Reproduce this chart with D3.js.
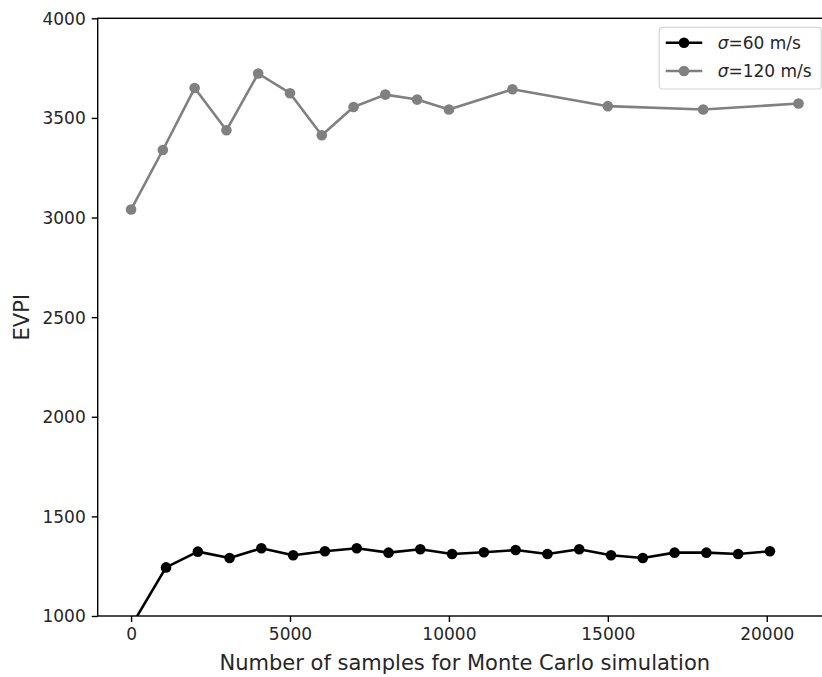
<!DOCTYPE html>
<html>
<head>
<meta charset="utf-8">
<script src="https://cdn.jsdelivr.net/npm/d3@7"></script>
<style>
  html, body { margin: 0; padding: 0; background: #fff; }
  svg { display: block; font-family: "DejaVu Sans", sans-serif; }
</style>
</head>
<body>
<svg id="chart" width="822" height="677"></svg>
<script>
// Sample counts and EVPI estimates for the two velocity spreads
const samples60 = [100, 1100, 2100, 3100, 4100, 5100, 6100, 7100, 8100, 9100, 10100,
                   11100, 12100, 13100, 14100, 15100, 16100, 17100, 18100, 19100, 20100];
const evpi60 = [975, 1244, 1323, 1291, 1340, 1305, 1325, 1340, 1318, 1335, 1311,
                1320, 1331, 1311, 1335, 1305, 1291, 1318, 1318, 1311, 1325];

const samples120 = [0, 1000, 2000, 3000, 4000, 5000, 6000, 7000, 8000, 9000, 10000,
                    12000, 15000, 18000, 21000];
const evpi120 = [3040, 3339, 3650, 3438, 3723, 3624, 3413, 3555, 3617, 3592, 3542,
                 3644, 3559, 3542, 3572];

const xTicks = [0, 5000, 10000, 15000, 20000];
const yTicks = [1000, 1500, 2000, 2500, 3000, 3500, 4000];

const seriesNames = ["60 m/s", "120 m/s"];
const seriesColors = ["#000000", "#808080"];

const svg = d3.select("#chart");
const plotLeft = 97.7, plotRight = 831.9, plotTop = 18.3, plotBottom = 616;

const x = d3.scaleLinear().domain([-1050, 22050]).range([plotLeft, plotRight]);
const y = d3.scaleLinear().domain([1000, 4000]).range([plotBottom, plotTop]);

svg.append("defs").append("clipPath").attr("id", "plotclip")
  .append("rect").attr("x", plotLeft).attr("y", plotTop)
  .attr("width", plotRight - plotLeft).attr("height", plotBottom - plotTop);

const plot = svg.append("g").attr("clip-path", "url(#plotclip)");

const series = [
  { xs: samples60, ys: evpi60, color: seriesColors[0] },
  { xs: samples120, ys: evpi120, color: seriesColors[1] }
];

const line = d3.line().x(d => x(d[0])).y(d => y(d[1]));

series.forEach(s => {
  const pts = s.xs.map((v, i) => [v, s.ys[i]]);
  plot.append("path").datum(pts)
    .attr("d", line)
    .attr("fill", "none")
    .attr("stroke", s.color)
    .attr("stroke-width", 2.6)
    .attr("stroke-linejoin", "round");
  plot.selectAll(null).data(pts).enter().append("circle")
    .attr("cx", d => x(d[0])).attr("cy", d => y(d[1]))
    .attr("r", 5.3).attr("fill", s.color);
});

// Axes
const fontSize = 17;
const xAxis = d3.axisBottom(x).tickValues(xTicks).tickSize(6).tickPadding(6).tickFormat(d3.format("d"));
const yAxis = d3.axisLeft(y).tickValues(yTicks).tickSize(6).tickPadding(6).tickFormat(d3.format("d"));

const gx = svg.append("g").attr("transform", `translate(0,${plotBottom})`).call(xAxis);
const gy = svg.append("g").attr("transform", `translate(${plotLeft},0)`).call(yAxis);
[gx, gy].forEach(g => {
  g.select(".domain").remove();
  g.selectAll(".tick line").attr("stroke", "#000").attr("stroke-width", 1.4);
  g.selectAll(".tick text").attr("font-size", fontSize).attr("fill", "#262626")
    .attr("font-family", "DejaVu Sans");
});
gy.selectAll(".tick text").attr("dy", "0.35em");

// Frame
svg.append("rect").attr("x", plotLeft).attr("y", plotTop)
  .attr("width", plotRight - plotLeft).attr("height", plotBottom - plotTop)
  .attr("fill", "none").attr("stroke", "#000").attr("stroke-width", 1.4);

// Axis titles
svg.append("text")
  .attr("x", (plotLeft + plotRight) / 2).attr("y", 670)
  .attr("text-anchor", "middle").attr("font-size", 21).attr("fill", "#262626")
  .text("Number of samples for Monte Carlo simulation");

svg.append("text")
  .attr("transform", `translate(29,${(plotTop + plotBottom) / 2}) rotate(-90)`)
  .attr("text-anchor", "middle").attr("font-size", 21).attr("fill", "#262626")
  .text("EVPI");

// Legend
const lg = svg.append("g");
lg.append("rect").attr("x", 659.3).attr("y", 27.3).attr("width", 162).attr("height", 61.7)
  .attr("rx", 3.5).attr("fill", "#fff").attr("fill-opacity", 0.8)
  .attr("stroke", "#d6d6d6").attr("stroke-width", 1.2);
const rowsY = [42.7, 71];
seriesNames.forEach((name, i) => {
  const ry = rowsY[i];
  lg.append("line").attr("x1", 665.7).attr("x2", 702.3).attr("y1", ry).attr("y2", ry)
    .attr("stroke", seriesColors[i]).attr("stroke-width", 2.6);
  lg.append("circle").attr("cx", 684).attr("cy", ry).attr("r", 5.3).attr("fill", seriesColors[i]);
  const t = lg.append("text").attr("x", 717.7).attr("y", ry).attr("dy", "0.35em")
    .attr("font-size", fontSize).attr("fill", "#262626");
  t.append("tspan").attr("font-style", "italic").text("σ");
  t.append("tspan").text("=" + name);
});
</script>
</body>
</html>
